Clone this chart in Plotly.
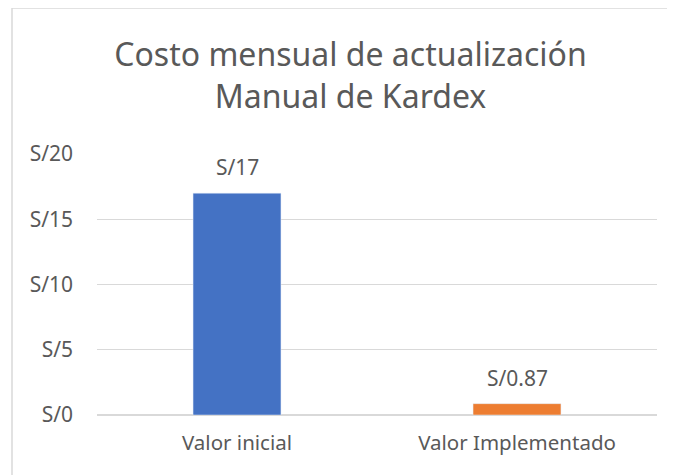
import plotly.graph_objects as go

categories = ["Valor inicial", "Valor Implementado"]
values = [17, 0.87]
labels = ["S/17", "S/0.87"]
colors = ["#4472C4", "#ED7D31"]
tick_vals = [0, 5, 10, 15, 20]
tick_text = ["S/0", "S/5", "S/10", "S/15", "S/20"]

FONT = "Noto Sans"
GREY = "#595959"

# page body has an 8px margin, so figure coordinates = screen - 8
L, T = 89, 146
R = 675 - 649
B = 475 - 407
PW = 675 - L - R
PH = 475 - T - B

fig = go.Figure(go.Bar(
    x=categories, y=values, marker_color=colors, cliponaxis=False,
))

fig.update_layout(
    width=675, height=475,
    margin=dict(l=L, r=R, t=T, b=B),
    paper_bgcolor="white", plot_bgcolor="white",
    bargap=0.686,
    showlegend=False,
    title=dict(
        text="Costo mensual de actualización<br>Manual de Kardex",
        x=342.5 / 675, xanchor="center", xref="container",
        y=1 - 58 / 475, yanchor="middle", yref="container",
        font=dict(family=FONT, size=32, color=GREY),
    ),
    xaxis=dict(tickfont=dict(family=FONT, size=20.5, color=GREY), showline=False, ticks="",
               ticklabelstandoff=13),
    yaxis=dict(
        range=[0, 20], tickvals=tick_vals, ticktext=tick_text,
        tickfont=dict(family=FONT, size=21, color=GREY),
        gridcolor="#D9D9D9", gridwidth=1, zeroline=True, zerolinecolor="#D9D9D9",
        ticklabelstandoff=23,
    ),
    annotations=[dict(x=c, y=v, text=t, xref="x", yref="y", showarrow=False,
                      yanchor="bottom", yshift=10,
                      font=dict(family=FONT, size=21, color=GREY))
                 for c, v, t in zip(categories, values, labels)],
    shapes=[dict(type="rect", xref="paper", yref="paper",
                 x0=(4 - L) / PW, x1=(700 - L) / PW,
                 y0=-100 / PH, y1=(PH + T - 0) / PH,
                 line=dict(color="#D9D9D9", width=1.5), layer="below")],
)

fig.write_html("out.html")
